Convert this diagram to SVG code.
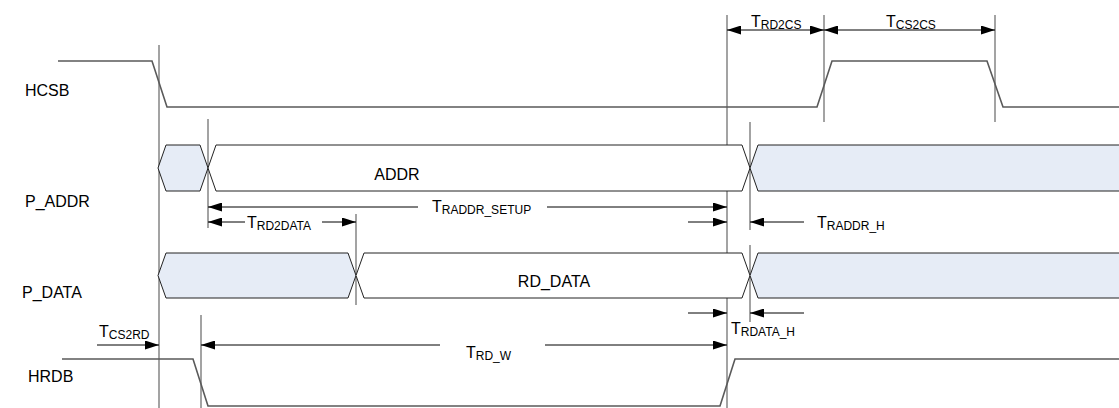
<svg xmlns="http://www.w3.org/2000/svg" width="1119" height="408" viewBox="0 0 1119 408">
<style>
.sig{fill:none;stroke:#5a5a5a;stroke-width:1.6}
.vl{fill:none;stroke:#666;stroke-width:1.2}
.bus{stroke:#222;stroke-width:1}
.fill{fill:#e6ecf6}
.wh{fill:#fff}
.arr{fill:none;stroke:#000;stroke-width:1}
.lbl{font-family:"Liberation Sans",Arial,sans-serif;font-size:16px;fill:#000}
.t{font-family:"Liberation Sans",Arial,sans-serif;font-size:16px;fill:#000}
.s{font-size:12px}
</style>
<defs>
<marker id="ah" viewBox="0 0 14 9" refX="14" refY="4.5" markerWidth="14" markerHeight="9" markerUnits="userSpaceOnUse" orient="auto-start-reverse">
<path d="M0,0 L14,4.5 L0,9 Z" fill="#000"/>
</marker>
</defs>
<g id="guides">
<line class="vl" x1="159" y1="45" x2="159" y2="408"/>
<line class="vl" x1="208" y1="119" x2="208" y2="228"/>
<line class="vl" x1="356" y1="214" x2="356" y2="305"/>
<line class="vl" x1="201" y1="315" x2="201" y2="408"/>
<line class="vl" x1="727" y1="15" x2="727" y2="408"/>
<line class="vl" x1="750" y1="122" x2="750" y2="230"/>
<line class="vl" x1="750" y1="245" x2="750" y2="322"/>
<line class="vl" x1="824" y1="15" x2="824" y2="122"/>
<line class="vl" x1="995" y1="15" x2="995" y2="122"/>
</g>
<g id="HCSB">
<text class="lbl" x="25" y="96">HCSB</text>
<polyline class="sig" points="58,61 152,61 167,107 817,107 832,61 987,61 1003,107 1119,107"/>
</g>
<g id="P_ADDR">
<text class="lbl" x="25" y="207">P_ADDR</text>
<polygon class="bus fill" points="158,168 166,145 200,145 208,168 200,191 166,191"/>
<polygon class="bus wh" points="208,168 216,145 742,145 750,168 742,191 216,191"/>
<polygon class="bus fill" points="750,168 758,145 1120,145 1120,191 758,191"/>
<text class="lbl" x="397" y="180" text-anchor="middle">ADDR</text>
</g>
<g id="P_DATA">
<text class="lbl" x="22" y="298">P_DATA</text>
<polygon class="bus fill" points="158,275.5 166,253 348,253 356,275.5 348,298 166,298"/>
<polygon class="bus wh" points="356,275.5 364,253 742,253 750,275.5 742,298 364,298"/>
<polygon class="bus fill" points="750,275.5 758,253 1120,253 1120,298 758,298"/>
<text class="lbl" x="554" y="287" text-anchor="middle">RD_DATA</text>
</g>
<g id="HRDB">
<text class="lbl" x="28" y="382">HRDB</text>
<polyline class="sig" points="62,359 193,359 208,406 720,406 735,359 1119,359"/>
</g>
<g id="connectors">
<line class="arr" x1="727" y1="30" x2="824" y2="30" marker-start="url(#ah)" marker-end="url(#ah)"/>
<line class="arr" x1="824" y1="30" x2="995" y2="30" marker-start="url(#ah)" marker-end="url(#ah)"/>
<line class="arr" x1="208" y1="207" x2="418" y2="207" marker-start="url(#ah)"/>
<line class="arr" x1="547" y1="207" x2="727" y2="207" marker-end="url(#ah)"/>
<line class="arr" x1="208" y1="222" x2="245" y2="222" marker-start="url(#ah)"/>
<line class="arr" x1="322" y1="222" x2="356" y2="222" marker-end="url(#ah)"/>
<line class="arr" x1="688" y1="222" x2="727" y2="222" marker-end="url(#ah)"/>
<line class="arr" x1="804" y1="222" x2="750" y2="222" marker-end="url(#ah)"/>
<line class="arr" x1="688" y1="313" x2="727" y2="313" marker-end="url(#ah)"/>
<line class="arr" x1="804" y1="313" x2="750" y2="313" marker-end="url(#ah)"/>
<line class="arr" x1="97" y1="345" x2="159" y2="345" marker-end="url(#ah)"/>
<line class="arr" x1="201" y1="345" x2="440" y2="345" marker-start="url(#ah)"/>
<line class="arr" x1="545" y1="345" x2="727" y2="345" marker-end="url(#ah)"/>
</g>
<g id="labels">
<text class="t" x="751" y="27">T<tspan class="s" dy="2">RD2CS</tspan></text>
<text class="t" x="886" y="27">T<tspan class="s" dy="2">CS2CS</tspan></text>
<text class="t" x="432" y="212">T<tspan class="s" dy="2">RADDR_SETUP</tspan></text>
<text class="t" x="247" y="228">T<tspan class="s" dy="2">RD2DATA</tspan></text>
<text class="t" x="817" y="228">T<tspan class="s" dy="2">RADDR_H</tspan></text>
<text class="t" x="731" y="334">T<tspan class="s" dy="2">RDATA_H</tspan></text>
<text class="t" x="99" y="337">T<tspan class="s" dy="2">CS2RD</tspan></text>
<text class="t" x="466" y="358">T<tspan class="s" dy="2">RD_W</tspan></text>
</g>
</svg>
